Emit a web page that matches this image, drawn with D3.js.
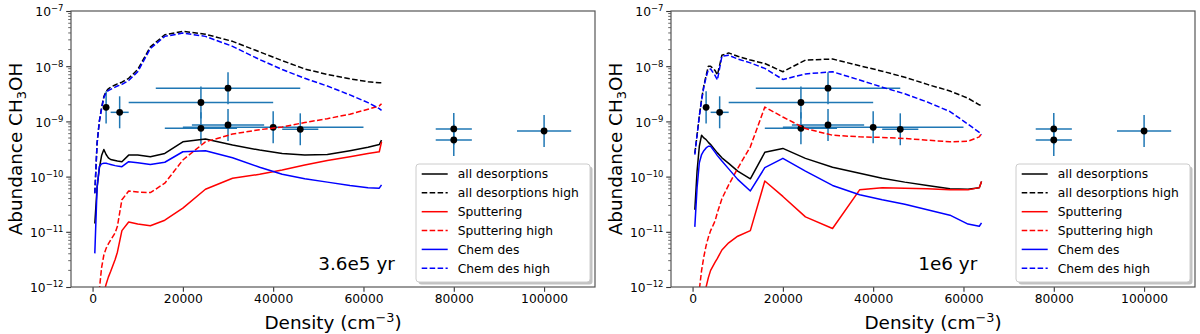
<!DOCTYPE html>
<html><head><meta charset="utf-8">
<script src="https://cdn.jsdelivr.net/npm/d3@7/dist/d3.min.js"></script>
<style>body{margin:0;background:#fff}svg{display:block;font-family:"DejaVu Sans",sans-serif}</style>
</head><body><svg id="c" width="1200" height="334"></svg>
<script>
// ---- data ----
const density = [500,1000,1500,2000,2500,3000,3500,4000,5000,5500,6500,8000,10000,12800,16000,20000,25000,31000,37000,42000,47000,52000,57000,61000,63500,64000];

// panel 1: 3.6e5 yr
const allDes1 = [1.41e-11,6.31e-11,1.41e-10,2.40e-10,3.09e-10,2.51e-10,2.19e-10,2.04e-10,1.95e-10,1.91e-10,1.86e-10,2.45e-10,2.45e-10,2.29e-10,2.63e-10,4.27e-10,4.79e-10,3.72e-10,3.02e-10,2.63e-10,2.45e-10,2.51e-10,2.95e-10,3.39e-10,3.80e-10,4.57e-10];
const allDesHigh1 = [5.0e-11,4.0e-10,1.0e-9,1.78e-9,2.82e-9,3.47e-9,3.89e-9,4.17e-9,4.57e-9,4.79e-9,5.13e-9,6.03e-9,8.71e-9,2.24e-8,3.72e-8,4.27e-8,3.80e-8,2.82e-8,1.82e-8,1.26e-8,8.91e-9,7.08e-9,5.89e-9,5.25e-9,5.01e-9,5.0e-9];
const sput1 = [null,null,null,3.98e-13,7.94e-13,1.12e-12,1.51e-12,1.91e-12,3.16e-12,4.27e-12,1.05e-11,1.51e-11,1.38e-11,1.29e-11,1.62e-11,2.69e-11,5.89e-11,9.33e-11,1.10e-10,1.32e-10,1.62e-10,1.95e-10,2.29e-10,2.63e-10,2.82e-10,4.27e-10];
const sputHigh1 = [null,1.58e-13,8.91e-13,2.24e-12,3.80e-12,5.01e-12,6.03e-12,7.08e-12,9.55e-12,1.26e-11,3.80e-11,5.50e-11,5.25e-11,5.13e-11,7.59e-11,2.0e-10,4.27e-10,5.89e-10,7.08e-10,7.94e-10,9.55e-10,1.12e-9,1.35e-9,1.66e-9,1.91e-9,2.09e-9];
const chem1 = [4.07e-12,6.31e-11,1.51e-10,1.70e-10,1.74e-10,1.74e-10,1.70e-10,1.66e-10,1.58e-10,1.55e-10,1.51e-10,1.86e-10,1.78e-10,1.66e-10,1.82e-10,2.82e-10,2.95e-10,2.19e-10,1.48e-10,1.10e-10,9.12e-11,7.94e-11,6.92e-11,6.31e-11,6.17e-11,7.08e-11];
const chemHigh1 = [5.0e-11,4.0e-10,1.0e-9,1.70e-9,2.69e-9,3.31e-9,3.63e-9,3.80e-9,4.17e-9,4.37e-9,4.68e-9,5.50e-9,7.94e-9,2.09e-8,3.47e-8,3.98e-8,3.47e-8,2.29e-8,1.32e-8,8.71e-9,6.03e-9,4.37e-9,3.02e-9,2.19e-9,1.70e-9,1.58e-9];

// panel 2: 1e6 yr
const allDes2 = [2.51e-11,1.26e-10,3.55e-10,5.62e-10,5.01e-10,4.68e-10,4.17e-10,3.80e-10,3.02e-10,2.69e-10,2.19e-10,1.74e-10,1.26e-10,9.12e-11,2.75e-10,3.24e-10,2.14e-10,1.48e-10,1.15e-10,9.33e-11,7.94e-11,6.92e-11,6.03e-11,5.89e-11,6.31e-11,8.13e-11];
const allDesHigh2 = [2.63e-10,5.62e-10,1.26e-9,2.51e-9,4.47e-9,6.76e-9,1.0e-8,1.0e-8,8.32e-9,6.92e-9,1.58e-8,1.74e-8,1.51e-8,1.29e-8,1.12e-8,7.94e-9,1.29e-8,1.35e-8,1.02e-8,8.13e-9,6.31e-9,4.68e-9,3.55e-9,2.63e-9,2.0e-9,1.91e-9];
const sput2 = [null,null,null,2.51e-13,5.62e-13,1.0e-12,1.48e-12,2.0e-12,2.82e-12,3.31e-12,4.68e-12,6.31e-12,8.32e-12,1.05e-11,8.32e-11,4.37e-11,1.86e-11,1.15e-11,5.75e-11,6.31e-11,6.17e-11,6.03e-11,5.75e-11,5.75e-11,6.31e-11,8.13e-11];
const sputHigh2 = [null,2.51e-13,8.91e-13,2.0e-12,3.55e-12,5.62e-12,7.94e-12,1.05e-11,1.58e-11,2.24e-11,3.98e-11,7.08e-11,1.41e-10,3.47e-10,1.82e-9,1.20e-9,7.41e-10,5.62e-10,5.25e-10,5.13e-10,4.90e-10,4.57e-10,4.27e-10,4.37e-10,5.25e-10,6.03e-10];
const chem2 = [1.23e-11,6.31e-11,1.78e-10,2.51e-10,2.95e-10,3.31e-10,3.55e-10,3.55e-10,2.75e-10,2.40e-10,1.91e-10,1.38e-10,8.91e-11,5.50e-11,1.45e-10,2.14e-10,1.26e-10,6.92e-11,4.68e-11,3.80e-11,3.16e-11,2.51e-11,2.0e-11,1.38e-11,1.26e-11,1.45e-11];
const chemHigh2 = [2.51e-10,5.62e-10,1.26e-9,2.40e-9,4.17e-9,6.31e-9,8.71e-9,8.91e-9,6.76e-9,5.62e-9,1.51e-8,1.58e-8,1.35e-8,1.15e-8,9.12e-9,5.75e-9,7.24e-9,7.94e-9,5.62e-9,4.17e-9,3.16e-9,2.24e-9,1.51e-9,8.91e-10,6.31e-10,5.75e-10];

// observations
const obsDensity = [3000,6000,24000,24000,30000,30000,40000,46000,80000,80000,100000];
const obsDensityErr = [500,2000,16000,8000,16000,8000,20000,4000,4000,4000,6000];
const obsAbund = [1.8e-9,1.46e-9,2.2e-9,7.5e-10,4.0e-9,8.6e-10,7.8e-10,7.2e-10,7.3e-10,4.6e-10,6.7e-10];
const obsLow = [0.92e-9,0.75e-9,1.13e-9,3.85e-10,2.05e-9,4.4e-10,4.0e-10,3.7e-10,3.75e-10,2.36e-10,3.44e-10];
const obsHigh = [3.5e-9,2.85e-9,4.3e-9,1.46e-9,7.8e-9,1.68e-9,1.52e-9,1.4e-9,1.42e-9,9.0e-10,1.31e-9];

const xTicks = [0,20000,40000,60000,80000,100000];
const yTicks = [1e-12,1e-11,1e-10,1e-9,1e-8,1e-7];
const yTickExp = ["−12","−11","−10","−9","−8","−7"];
const legendLabels = ["all desorptions","all desorptions high","Sputtering","Sputtering high","Chem des","Chem des high"];
const ages = ["3.6e5 yr","1e6 yr"];

// ---- drawing ----
const svg = d3.select("#c");
const FS_T = 12.3, FS_L = 18.4;
const styles = [
  {c:"#000000",d:null},{c:"#000000",d:"5.55,2.4"},
  {c:"#ff0000",d:null},{c:"#ff0000",d:"5.55,2.4"},
  {c:"#0000ff",d:null},{c:"#0000ff",d:"5.55,2.4"}];
const panels = [
  {x0:71,x1:595,series:[allDes1,allDesHigh1,sput1,sputHigh1,chem1,chemHigh1],age:ages[0]},
  {x0:671,x1:1195,series:[allDes2,allDesHigh2,sput2,sputHigh2,chem2,chemHigh2],age:ages[1]}];
const yTop = 11, yBot = 287;

panels.forEach((p,pi)=>{
  const x = d3.scaleLinear().domain([-4775,111275]).range([p.x0,p.x1]);
  const y = d3.scaleLog().domain([1e-12,1e-7]).range([yBot,yTop]);
  const g = svg.append("g");
  const cid = "clip"+pi;
  svg.append("clipPath").attr("id",cid).append("rect")
    .attr("x",p.x0).attr("y",yTop).attr("width",p.x1-p.x0).attr("height",yBot-yTop);

  // error bars
  const eb = g.append("g").attr("clip-path",`url(#${cid})`);
  obsDensity.forEach((d,i)=>{
    eb.append("line").attr("x1",x(d-obsDensityErr[i])).attr("x2",x(d+obsDensityErr[i]))
      .attr("y1",y(obsAbund[i])).attr("y2",y(obsAbund[i]))
      .attr("stroke","#1f77b4").attr("stroke-width",1.5);
    eb.append("line").attr("x1",x(d)).attr("x2",x(d))
      .attr("y1",y(obsLow[i])).attr("y2",y(obsHigh[i]))
      .attr("stroke","#1f77b4").attr("stroke-width",1.5);
  });

  // model lines
  const lg = g.append("g").attr("clip-path",`url(#${cid})`);
  const line = d3.line().defined(v=>v!=null).x((v,i)=>x(density[i])).y(v=>y(v));
  p.series.forEach((s,si)=>{
    lg.append("path").attr("d",line(s)).attr("fill","none")
      .attr("stroke",styles[si].c).attr("stroke-width",1.5)
      .attr("stroke-linejoin","round")
      .attr("stroke-dasharray",styles[si].d);
  });

  // dots
  obsDensity.forEach((d,i)=>{
    eb.append("circle").attr("cx",x(d)).attr("cy",y(obsAbund[i])).attr("r",3.4).attr("fill","#000");
  });

  // x axis
  const xa = g.append("g").attr("transform",`translate(0,${yBot})`)
    .call(d3.axisBottom(x).tickValues(xTicks).tickFormat(d3.format("d")).tickSize(4.8).tickSizeOuter(0));
  xa.select(".domain").remove();
  xa.selectAll(".tick line").attr("stroke","#333").attr("stroke-width",1.1);
  xa.selectAll(".tick text").attr("font-size",FS_T).attr("font-family","DejaVu Sans").attr("fill","#000").attr("y",7.5).attr("dy","0.71em");

  // y axis major ticks
  const ya = g.append("g").attr("transform",`translate(${p.x0},0)`)
    .call(d3.axisLeft(y).tickValues(yTicks).tickFormat("").tickSize(4.8).tickSizeOuter(0));
  ya.select(".domain").remove();
  ya.selectAll(".tick line").attr("stroke","#333").attr("stroke-width",1.1);
  // minor ticks
  const minors = [];
  for (let e=-12;e<-7;e++) for (let m=2;m<10;m++) minors.push(m*Math.pow(10,e));
  g.append("g").selectAll("line").data(minors).join("line")
    .attr("x1",p.x0-2.8).attr("x2",p.x0).attr("y1",d=>y(d)).attr("y2",d=>y(d))
    .attr("stroke","#444").attr("stroke-width",0.8);
  // y tick labels
  yTicks.forEach((t,i)=>{
    const tx = g.append("text").attr("x",p.x0-7.5).attr("y",y(t)+5.3).attr("text-anchor","end")
      .attr("font-size",FS_T).attr("fill","#000");
    tx.append("tspan").text("10");
    tx.append("tspan").attr("dy",-5).attr("font-size",FS_T*0.69).text(yTickExp[i]);
  });

  // frame
  g.append("rect").attr("x",p.x0).attr("y",yTop).attr("width",p.x1-p.x0).attr("height",yBot-yTop)
    .attr("fill","none").attr("stroke","#555").attr("stroke-width",1.2);

  // axis labels
  const xl = g.append("text").attr("x",(p.x0+p.x1)/2).attr("y",329).attr("text-anchor","middle")
    .attr("font-size",FS_L).attr("fill","#000");
  xl.append("tspan").text("Density (cm");
  xl.append("tspan").attr("dy",-7).attr("font-size",FS_L*0.7).text("−3");
  xl.append("tspan").attr("dy",7).text(")");
  const ylx = p.x0-55.5, yly = (yTop+yBot)/2;
  const yl = g.append("text").attr("transform",`translate(${ylx+6},${yly}) rotate(-90)`)
    .attr("text-anchor","middle").attr("font-size",FS_L).attr("fill","#000");
  yl.append("tspan").text("Abundance CH");
  yl.append("tspan").attr("dy",4).attr("font-size",FS_L*0.7).text("3");
  yl.append("tspan").attr("dy",-4).text("OH");

  // age label
  g.append("text").attr("x",x(50000)).attr("y",y(2e-12)).attr("font-size",FS_L).attr("fill","#000").text(p.age);

  // legend
  const lx = p.x0+345, ly = 164, lw = 174, lh = 118;
  g.append("rect").attr("x",lx+2.5).attr("y",ly+2.5).attr("width",lw).attr("height",lh).attr("rx",3)
    .attr("fill","#999").attr("opacity",0.6);
  g.append("rect").attr("x",lx).attr("y",ly).attr("width",lw).attr("height",lh).attr("rx",3)
    .attr("fill","#fff").attr("stroke","#ccc").attr("stroke-width",1);
  legendLabels.forEach((lab,i)=>{
    const cy = 174 + i*18.85;
    g.append("line").attr("x1",lx+5.7).attr("x2",lx+31.7).attr("y1",cy).attr("y2",cy)
      .attr("stroke",styles[i].c).attr("stroke-width",1.5).attr("stroke-dasharray",styles[i].d);
    g.append("text").attr("x",lx+41.7).attr("y",cy+4.4).attr("font-size",FS_T).attr("fill","#000").text(lab);
  });
});
</script></body></html>
